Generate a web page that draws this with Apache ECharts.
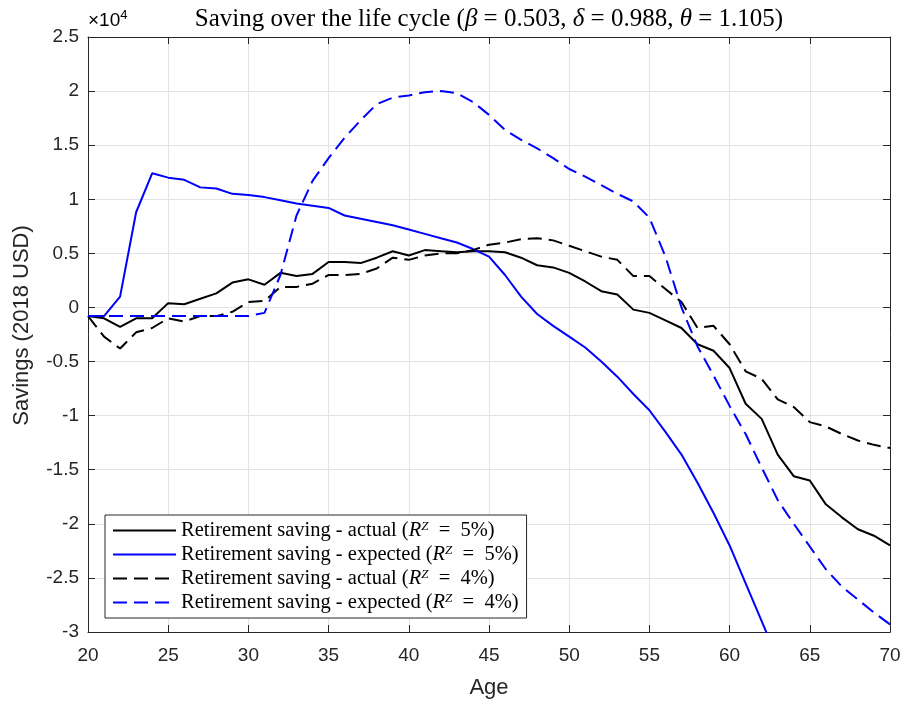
<!DOCTYPE html>
<html>
<head>
<meta charset="utf-8">
<script src="https://cdn.jsdelivr.net/npm/echarts@6/dist/echarts.min.js"></script>
<style>
  html, body { margin: 0; padding: 0; background: #fff; }
  #chart { width: 905px; height: 704px; }
</style>
</head>
<body>
<div id="chart"></div>
<script>
// ages 20..70
const ages = [];
for (let a = 20; a <= 70; a++) ages.push(a);

// savings in USD
const actual5 = [
  -800, -1000, -1800, -1000, -1000, 400, 300, 800, 1300, 2300,
  2600, 2100, 3200, 2900, 3100, 4200, 4200, 4100, 4600, 5200,
  4800, 5300, 5200, 5100, 5200, 5200, 5100, 4600, 3900, 3700,
  3200, 2400, 1500, 1200, -200, -500, -1200, -1900, -3400, -4000,
  -5600, -8900, -10300, -13600, -15600, -16000, -18200, -19400, -20500, -21100,
  -22000
];
const expected5 = [
  -800, -800, 1000, 8800, 12400, 12000, 11800, 11100, 11000, 10500,
  10400, 10200, 9900, 9600, 9400, 9200, 8500, 8200, 7900, 7600,
  7200, 6800, 6400, 6000, 5400, 4700, 3000, 1000, -600, -1700,
  -2700, -3700, -5000, -6400, -8000, -9500, -11500, -13600, -16200, -19000,
  -22000, -25500, -29000, -32500, -36000, -39500, -43000, -46500, -50000, -53500,
  -57000
];
const actual4 = [
  -800, -2700, -3800, -2300, -1900, -1000, -1300, -800, -800, -400,
  500, 600, 1900, 1900, 2200, 3000, 3000, 3100, 3600, 4600,
  4400, 4800, 5000, 5000, 5300, 5800, 6000, 6300, 6400, 6200,
  5700, 5200, 4700, 4400, 2900, 2900, 1700, 500, -1900, -1700,
  -3400, -5900, -6600, -8500, -9200, -10600, -11000, -11700, -12300, -12700,
  -13000
];
const expected4 = [
  -800, -800, -800, -800, -800, -800, -800, -800, -800, -800,
  -800, -500, 3000, 8500, 11700, 13800, 15700, 17300, 18800, 19400,
  19600, 19900, 20000, 19800, 19000, 17800, 16400, 15500, 14700, 13800,
  12800, 12100, 11300, 10500, 9800, 8300, 4700, 0, -3600, -6300,
  -9100, -11700, -14800, -17800, -20000, -22100, -24200, -25800, -27000, -28200,
  -29300
];

const seriesNames = ['actual5', 'expected5', 'actual4', 'expected4'];
const legendLabels = {
  actual5: ['Retirement saving - actual', '5%'],
  expected5: ['Retirement saving - expected', '5%'],
  actual4: ['Retirement saving - actual', '4%'],
  expected4: ['Retirement saving - expected', '4%'],
};

const yMin = -30000, yMax = 25000, yStep = 5000;

const pairs = (vals) => ages.map((a, i) => [a, vals[i]]);

const sansFont = '"Liberation Sans", Arial, sans-serif';
const serifFont = '"Liberation Serif", "DejaVu Serif", serif';
const axisColor = '#262626';
const gridColor = '#e3e3e3';

const legendRich = {
  n: { fontFamily: serifFont, fontSize: 20.5, lineHeight: 20, color: '#000' },
  m: { fontFamily: serifFont, fontSize: 20.5, lineHeight: 20, fontStyle: 'italic', color: '#000' },
  s: { fontFamily: serifFont, fontSize: 13, lineHeight: 13, fontStyle: 'italic', color: '#000', verticalAlign: 'top', padding: [0, 0, 7, 0] },
};

function lineSeries(key, vals, color, dashed) {
  return {
    name: key,
    type: 'line',
    data: pairs(vals),
    symbol: 'none',
    showSymbol: false,
    lineStyle: { color: color, width: 2, type: dashed ? [14, 7] : 'solid' },
    itemStyle: { color: color },
    clip: true,
    z: 3,
  };
}

const chart = echarts.init(document.getElementById('chart'));
chart.setOption({
  animation: false,
  title: {
    text: '{n|Saving over the life cycle (}{m|β}{n| = 0.503, }{m|δ}{n| = 0.988, }{m|θ}{n| = 1.105)}',
    left: 484,
    textAlign: 'center',
    top: 2,
    textStyle: {
      fontWeight: 'normal',
      rich: {
        n: { fontFamily: serifFont, fontSize: 25, fontWeight: 'normal', color: '#000' },
        m: { fontFamily: serifFont, fontSize: 25, fontWeight: 'normal', fontStyle: 'italic', color: '#000' },
      },
    },
  },
  graphic: [
    {
      type: 'text',
      left: 88,
      top: 9,
      style: {
        text: '{x|×}{t|10}{e|4}',
        rich: {
          x: { fontFamily: sansFont, fontSize: 19, color: axisColor },
          t: { fontFamily: sansFont, fontSize: 19, color: axisColor },
          e: { fontFamily: sansFont, fontSize: 13, color: axisColor, verticalAlign: 'top', padding: [0, 0, 10, 0] },
        },
      },
    },
  ],
  legend: {
    orient: 'vertical',
    left: 105,
    top: 515,
    itemWidth: 63,
    itemHeight: 14,
    itemGap: 3,
    padding: [5, 8, 5, 7],
    backgroundColor: '#fff',
    borderColor: axisColor,
    borderWidth: 1,
    borderRadius: 0,
    itemStyle: { color: 'rgba(0,0,0,0)', borderWidth: 0 },
    textStyle: { rich: legendRich },
    formatter: (name) => {
      const p = legendLabels[name];
      return '{n|' + p[0] + ' (}{m|R}{s|Z}{n|\u2002=\u2002' + p[1] + ')}';
    },
    data: seriesNames,
  },
  grid: { left: 88, right: 15, top: 37, bottom: 71 },
  xAxis: [
    {
      type: 'value',
      min: 20, max: 70, interval: 5,
      name: 'Age',
      nameLocation: 'middle',
      nameGap: 45,
      nameTextStyle: { fontFamily: sansFont, fontSize: 22, color: axisColor },
      axisLine: { onZero: false, lineStyle: { color: axisColor, width: 1 } },
      axisTick: { inside: true, length: 7, lineStyle: { color: axisColor } },
      axisLabel: { fontFamily: sansFont, fontSize: 19, color: axisColor, margin: 14 },
      splitLine: { show: true, lineStyle: { color: gridColor, width: 1 } },
    },
    {
      type: 'value',
      position: 'top',
      min: 20, max: 70, interval: 5,
      axisLine: { onZero: false, lineStyle: { color: axisColor, width: 1 } },
      axisTick: { inside: true, length: 7, lineStyle: { color: axisColor } },
      axisLabel: { show: false },
      splitLine: { show: false },
    },
  ],
  yAxis: [
    {
      type: 'value',
      min: yMin, max: yMax, interval: yStep,
      name: 'Savings (2018 USD)',
      nameLocation: 'middle',
      nameGap: 55,
      nameTextStyle: { fontFamily: sansFont, fontSize: 22, color: axisColor, padding: [0, 0, 0, 18] },
      axisLine: { show: true, onZero: false, lineStyle: { color: axisColor, width: 1 } },
      axisTick: { show: true, inside: true, length: 7, lineStyle: { color: axisColor } },
      axisLabel: {
        fontFamily: sansFont, fontSize: 19, color: axisColor, margin: 9,
        formatter: (v) => String(v / 10000),
      },
      splitLine: { show: true, lineStyle: { color: gridColor, width: 1 } },
    },
    {
      type: 'value',
      position: 'right',
      min: yMin, max: yMax, interval: yStep,
      axisLine: { show: true, onZero: false, lineStyle: { color: axisColor, width: 1 } },
      axisTick: { show: true, inside: true, length: 7, lineStyle: { color: axisColor } },
      axisLabel: { show: false },
      splitLine: { show: false },
    },
  ],
  series: [
    lineSeries('actual5', actual5, '#000000', false),
    lineSeries('expected5', expected5, '#0000ff', false),
    lineSeries('actual4', actual4, '#000000', true),
    lineSeries('expected4', expected4, '#0000ff', true),
  ],
});
</script>
</body>
</html>
